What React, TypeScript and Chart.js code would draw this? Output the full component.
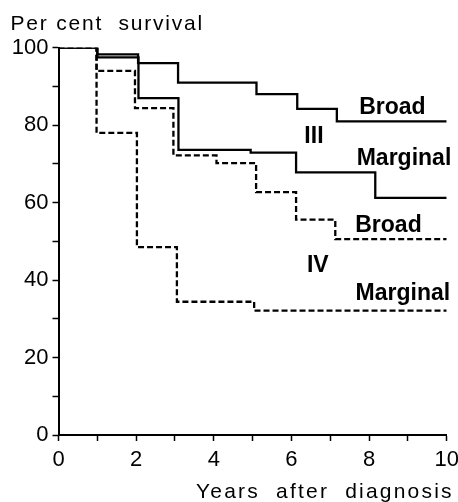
import React, { useEffect, useRef } from "react";
import { Chart, registerables } from "chart.js";

Chart.register(...registerables);

// Survival data (years after diagnosis, per cent survival)
const yearsIIIBroad = [0, 1.0, 2.05, 3.08, 5.1, 6.15, 7.17, 10];
const survIIIBroad = [100, 98.3, 96, 91, 88, 84.2, 81, 81];

const yearsIIIMarginal = [0, 1.0, 2.06, 3.09, 4.95, 6.12, 8.16, 10];
const survIIIMarginal = [100, 97.5, 87, 73.6, 72.9, 67.8, 61.2, 61.2];

const yearsIVBroad = [0, 0.98, 1.97, 2.96, 4.07, 5.09, 6.12, 7.13, 10];
const survIVBroad = [100, 94, 84.4, 72.2, 70.2, 62.7, 55.6, 50.6, 50.6];

const yearsIVMarginal = [0, 0.98, 2.02, 3.05, 5.04, 10];
const survIVMarginal = [100, 78, 48.5, 34.4, 32.1, 32.1];

// Ticks
const xTickValues = [0, 1, 2, 3, 4, 5, 6, 7, 8, 9, 10];
const xTickLabels = ["0", "", "2", "", "4", "", "6", "", "8", "", "10"];
const yTickValues = [0, 10, 20, 30, 40, 50, 60, 70, 80, 90, 100];
const yTickLabels = ["0", "", "20", "", "40", "", "60", "", "80", "", "100"];

// Curve annotations (in data coordinates)
const curveLabels = ["Broad", "III", "Marginal", "Broad", "IV", "Marginal"];
const labelYears = [8.6, 6.58, 8.9, 8.5, 6.68, 8.87];
const labelSurv = [84.5, 77.0, 71.3, 54.0, 43.6, 36.6];

const yTitle = "Per cent  survival";
const xTitle = "Years  after  diagnosis";

const toPoints = (xs: number[], ys: number[]) => xs.map((x, i) => ({ x, y: ys[i] }));

const FONT = '"Liberation Sans", Arial, Helvetica, sans-serif';

const textPlugin = {
  id: "texts",
  afterDraw(chart: any) {
    const { ctx, chartArea, scales } = chart;
    const xs = scales.x;
    const ys = scales.y;
    ctx.save();
    ctx.fillStyle = "#000";
    ctx.font = `bold 23px ${FONT}`;
    ctx.textAlign = "center";
    ctx.textBaseline = "middle";
    curveLabels.forEach((t, i) => {
      ctx.fillText(t, xs.getPixelForValue(labelYears[i]), ys.getPixelForValue(labelSurv[i]));
    });
    ctx.font = `21px ${FONT}`;
    try {
      (ctx as any).letterSpacing = "1.8px";
    } catch (e) {}
    ctx.textAlign = "left";
    ctx.fillText(yTitle, chartArea.left - 48, chartArea.top - 23);
    try {
      (ctx as any).letterSpacing = "2.2px";
    } catch (e) {}
    ctx.textAlign = "right";
    ctx.fillText(xTitle, chartArea.right + 7, chartArea.bottom + 57);
    ctx.restore();
  },
};

export default function App() {
  const canvasRef = useRef<HTMLCanvasElement | null>(null);

  useEffect(() => {
    if (!canvasRef.current) return;
    const solid = { borderColor: "#000", borderWidth: 2.3, pointRadius: 0, stepped: "before" as const, showLine: true, fill: false };
    const dashed = { ...solid, borderDash: [6, 3] };
    const chart = new Chart(canvasRef.current, {
      type: "scatter",
      data: {
        datasets: [
          { label: "III Broad", data: toPoints(yearsIIIBroad, survIIIBroad), ...solid },
          { label: "III Marginal", data: toPoints(yearsIIIMarginal, survIIIMarginal), ...solid },
          { label: "IV Broad", data: toPoints(yearsIVBroad, survIVBroad), ...dashed },
          { label: "IV Marginal", data: toPoints(yearsIVMarginal, survIVMarginal), ...dashed },
        ],
      },
      options: {
        animation: false,
        responsive: false,
        devicePixelRatio: 1,
        layout: { padding: { top: 47.7, right: 11.3, left: 0, bottom: 0 } },
        plugins: { legend: { display: false }, tooltip: { enabled: false }, title: { display: false } },
        scales: {
          x: {
            type: "linear",
            min: 0,
            max: 10,
            afterBuildTicks: (scale: any) => {
              scale.ticks = xTickValues.map((v) => ({ value: v }));
            },
            afterFit: (scale: any) => {
              scale.height = 67;
              scale.paddingLeft = 0;
              scale.paddingRight = 0;
            },
            ticks: {
              autoSkip: false,
              maxRotation: 0,
              color: "#000",
              padding: 6,
              font: { family: FONT, size: 22 },
              callback: (_v: any, i: number) => xTickLabels[i],
            },
            grid: { display: true, drawOnChartArea: false, drawTicks: true, tickLength: 6, tickWidth: 1.5, tickColor: "#000" },
            border: { display: true, color: "#000", width: 2 },
          },
          y: {
            type: "linear",
            min: 0,
            max: 100,
            afterBuildTicks: (scale: any) => {
              scale.ticks = yTickValues.map((v) => ({ value: v }));
            },
            afterFit: (scale: any) => {
              scale.width = 58.5;
              scale.paddingTop = 0;
              scale.paddingBottom = 0;
            },
            ticks: {
              autoSkip: false,
              color: "#000",
              padding: 4,
              font: { family: FONT, size: 22 },
              callback: (_v: any, i: number) => yTickLabels[i],
            },
            grid: { display: true, drawOnChartArea: false, drawTicks: true, tickLength: 6, tickWidth: 1.5, tickColor: "#000" },
            border: { display: true, color: "#000", width: 2 },
          },
        },
      },
      plugins: [textPlugin],
    });
    return () => chart.destroy();
  }, []);

  return (
    <div style={{ position: "fixed", left: 0, top: 0, width: 458, height: 502, background: "#fff" }}>
      <canvas ref={canvasRef} width={458} height={502} style={{ width: 458, height: 502, display: "block" }} />
    </div>
  );
}
